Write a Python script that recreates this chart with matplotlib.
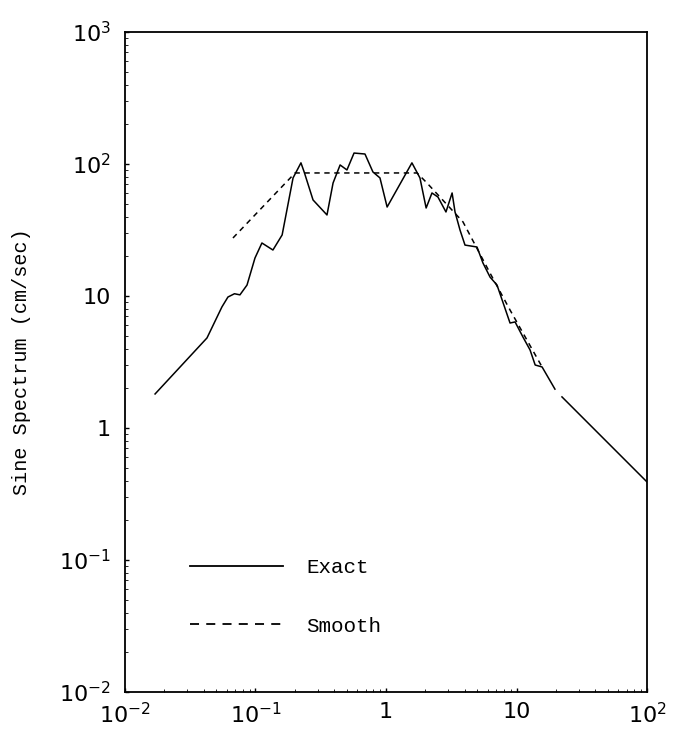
import matplotlib
matplotlib.use('Agg')
import matplotlib.pyplot as plt
from matplotlib.lines import Line2D
from matplotlib.ticker import NullFormatter

# periods / spectrum values
exact_x = [0.0170, 0.0425, 0.0553, 0.0615, 0.0690, 0.0760, 0.0861, 0.0991, 0.112, 0.136, 0.160,
           0.194, 0.223, 0.236, 0.276, 0.353, 0.393, 0.445, 0.502, 0.569, 0.690,
           0.794, 0.899, 1.02, 1.58, 1.82, 2.03, 2.25, 2.50, 2.88, 3.21,
           3.38, 3.69, 4.03, 4.98, 5.53, 6.27, 7.09, 8.92, 9.75, 11.2,
           12.7, 13.9, 15.7, 19.7]
exact_y = [1.81, 4.81, 8.26, 9.82, 10.4, 10.2, 12.1, 19.4, 25.2, 22.3, 29.0,
           78.4, 102, 87.0, 53.4, 41.1, 71.8, 98.3, 90.1, 121, 119,
           87.0, 78.4, 47.2, 102, 78.4, 46.4, 60.3, 56.2, 43.3, 60.3,
           43.3, 31.6, 24.3, 23.5, 17.8, 13.9, 12.1, 6.24, 6.36, 4.89,
           3.90, 3.00, 2.90, 1.97]
# tail after the small gap
tail_x = [22.3, 100]
tail_y = [1.72, 0.39]

smooth_x = [0.0672, 0.201, 1.73, 2.06, 2.59, 3.89, 6.27, 8.92, 15.7]
smooth_y = [27.5, 85.5, 85.5, 71.8, 56.2, 36.4, 14.9, 7.83, 2.90]

xticks = [1e-2, 1e-1, 1, 10, 100]
xlabels = ['10$^{-2}$', '10$^{-1}$', '1', '10', '10$^{2}$']
yticks = [1e-2, 1e-1, 1, 10, 100, 1000]
ylabels = ['10$^{-2}$', '10$^{-1}$', '1', '10', '10$^{2}$', '10$^{3}$']

mono = 'Liberation Mono'

fig = plt.figure(figsize=(6.8, 7.35), dpi=100)
ax = fig.add_axes([0.1838, 0.0585, 0.7677, 0.898])

ax.plot(exact_x, exact_y, color='black', lw=1.1)
ax.plot(tail_x, tail_y, color='black', lw=1.1)
ax.plot(smooth_x, smooth_y, color='black', lw=1.1, dashes=(3.5, 3))

ax.set_xscale('log')
ax.set_yscale('log')
ax.set_xlim(1e-2, 1e2)
ax.set_ylim(1e-2, 1e3)

ax.set_xticks(xticks)
ax.set_xticklabels(xlabels)
ax.set_yticks(yticks)
ax.set_yticklabels(ylabels)
ax.xaxis.set_minor_formatter(NullFormatter())
ax.yaxis.set_minor_formatter(NullFormatter())
ax.tick_params(which='major', direction='in', length=3, width=1, labelsize=16)
ax.tick_params(axis='y', which='major', pad=10)
ax.tick_params(axis='x', which='major', pad=7)
ax.tick_params(which='minor', direction='in', length=2, width=0.6)

for s in ax.spines.values():
    s.set_linewidth(1.3)

ax.set_ylabel('Sine Spectrum (cm/sec)', fontname=mono, fontsize=14.5, labelpad=20)

# legend with longer dashes like the original key
handles = [Line2D([], [], color='black', lw=1.3),
           Line2D([], [], color='black', lw=1.3, dashes=(5, 4))]
ax.legend(handles, ['Exact', 'Smooth'], loc='upper left', bbox_to_anchor=(0.124, 0.203),
          frameon=False, handlelength=4.5, handletextpad=1.1, labelspacing=1.9,
          borderpad=0, borderaxespad=0, prop={'family': mono, 'size': 15})

fig.savefig('out.png', dpi=100)
